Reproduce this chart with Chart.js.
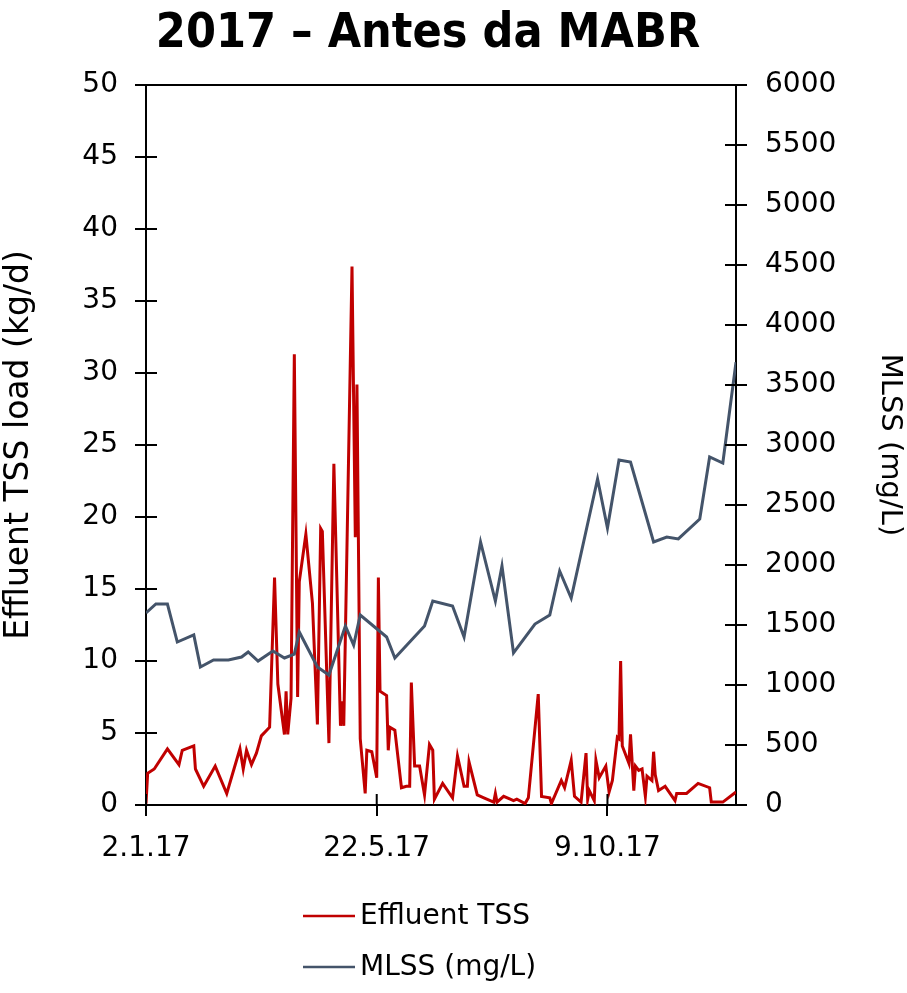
<!DOCTYPE html>
<html>
<head>
<meta charset="utf-8">
<script src="https://cdn.jsdelivr.net/npm/chart.js@4"></script>
<style>
  html, body { margin: 0; padding: 0; background: #fff; }
</style>
</head>
<body>
<canvas id="chart" width="907" height="993"></canvas>
<script>
// days counted from 2.1.17
const xTickDays = [0, 140, 280];
const xTickLabels = ['2.1.17', '22.5.17', '9.10.17'];

const tssDays = [0,1,5,13,20,22,29,30,35,42,49,57,59,61,64,67,70,75,78,80,
  84,85,86,88,90,92,93,97,101,104,106,107,111,114,118,119,120,125,127,128,
  130,133,134,137,140,141,142,146,147,148,151,155,158,160,161,163,166,169,172,174,
  175,180,186,189,193,195,196,201,205,211,212,213,217,221,223,225,230,232,238,240,
  245,246,252,254,258,260,264,267,268,269,272,273,275,279,281,283,286,287,288,289,
  293,294,296,297,299,301,303,304,307,308,309,311,315,321,322,328,335,342,343,350,358];
const tssLoad = [0.1,2.2,2.5,3.9,2.8,3.8,4.1,2.5,1.3,2.7,0.8,3.9,2.5,3.8,2.8,3.6,4.8,5.4,15.8,8.4,
  4.9,7.9,4.9,7.4,31.3,7.5,15.5,18.8,14.0,5.6,19.2,19.0,4.3,23.7,5.5,7.2,5.5,37.4,18.6,29.2,
  4.6,0.8,3.8,3.7,1.9,15.8,7.9,7.6,3.8,5.4,5.2,1.2,1.3,1.3,8.5,2.7,2.7,0.7,4.2,3.8,
  0.4,1.5,0.5,3.4,1.3,1.3,3.0,0.7,0.5,0.2,0.8,0.2,0.6,0.4,0.3,0.4,0.1,0.5,7.7,0.6,
  0.5,0.1,1.7,1.2,3.1,0.6,0.2,3.6,0.4,1.0,0.3,3.1,1.9,2.7,0.9,1.7,4.7,4.6,10.0,4.1,
  2.9,4.9,1.0,2.7,2.4,2.5,0.6,2.0,1.7,3.7,2.1,1.0,1.3,0.3,0.8,0.8,1.5,1.2,0.2,0.2,0.9];

const mlssDays = [0,6,13,19,29,33,41,50,58,62,68,77,84,90,93,104,111,121,126,130,
  146,151,169,174,186,193,203,212,216,223,236,245,251,258,274,280,287,294,308,316,
  323,336,342,350,358];
const mlssValues = [1600,1675,1675,1358,1417,1150,1208,1208,1233,1275,1200,1283,1225,1258,1442,1150,1083,1492,1333,1583,
  1400,1225,1492,1700,1658,1400,2192,1700,1992,1267,1508,1583,1950,1725,2717,2308,2875,2858,2192,2233,
  2217,2383,2900,2850,3690];

const chartTitle = '2017 – Antes da MABR';
const leftTitle = 'Effluent TSS load (kg/d)';
const rightTitle = 'MLSS (mg/L)';
const tssColor = '#C00000';
const mlssColor = '#44546A';

const FONT = "'DejaVu Sans', Verdana, sans-serif";
Chart.defaults.font.family = FONT;
Chart.defaults.color = '#000';

const tickIn = 11;

// ticks crossing into the plot + top frame line
const crossTicks = {
  id: 'crossTicks',
  afterDraw(chart) {
    const { ctx, chartArea: a, scales } = chart;
    ctx.save();
    ctx.strokeStyle = '#000';
    ctx.lineWidth = 2;
    ctx.beginPath();
    ctx.moveTo(a.left, a.top);
    ctx.lineTo(a.right, a.top);
    scales.y.ticks.forEach((t, i) => {
      const p = scales.y.getPixelForTick(i);
      ctx.moveTo(a.left, p); ctx.lineTo(a.left + tickIn, p);
    });
    scales.y1.ticks.forEach((t, i) => {
      const p = scales.y1.getPixelForTick(i);
      ctx.moveTo(a.right, p); ctx.lineTo(a.right - tickIn, p);
    });
    scales.x.ticks.forEach((t, i) => {
      const p = scales.x.getPixelForTick(i);
      ctx.moveTo(p, a.bottom); ctx.lineTo(p, a.bottom - tickIn);
    });
    ctx.stroke();
    ctx.restore();
  }
};

const titlePlugin = {
  id: 'offsetTitle',
  afterDraw(chart) {
    const ctx = chart.ctx;
    ctx.save();
    let size = 48;
    const fam = "'DejaVu Sans Condensed', 'DejaVu Sans', sans-serif";
    ctx.font = 'bold ' + size + 'px ' + fam;
    const w = ctx.measureText(chartTitle).width;
    if (w > 552) {
      size = Math.floor(size * 552 / w);
      ctx.font = 'bold ' + size + 'px ' + fam;
    }
    ctx.fillStyle = '#000';
    ctx.textAlign = 'center';
    ctx.textBaseline = 'alphabetic';
    ctx.fillText(chartTitle, 428, 47);
    ctx.restore();
  }
};

// legend stacked one item per row under the plot
const stackedLegend = {
  id: 'stackedLegend',
  afterDraw(chart) {
    const ctx = chart.ctx;
    ctx.save();
    ctx.font = '28px ' + FONT;
    ctx.textBaseline = 'middle';
    ctx.textAlign = 'left';
    chart.data.datasets.forEach((ds, i) => {
      const y = 916 + i * 51;
      ctx.strokeStyle = ds.borderColor;
      ctx.lineWidth = 2.5;
      ctx.beginPath();
      ctx.moveTo(303, y);
      ctx.lineTo(355, y);
      ctx.stroke();
      ctx.fillStyle = '#000';
      ctx.fillText(ds.label, 360, y + 1);
    });
    ctx.restore();
  }
};

const ctx = document.getElementById('chart').getContext('2d');
new Chart(ctx, {
  type: 'line',
  data: {
    datasets: [
      {
        label: 'Effluent TSS',
        data: tssDays.map((d, i) => ({ x: d, y: tssLoad[i] })),
        borderColor: tssColor,
        backgroundColor: tssColor,
        borderWidth: 3,
        pointRadius: 0,
        tension: 0,
        yAxisID: 'y',
        order: 1
      },
      {
        label: 'MLSS (mg/L)',
        data: mlssDays.map((d, i) => ({ x: d, y: mlssValues[i] })),
        borderColor: mlssColor,
        backgroundColor: mlssColor,
        borderWidth: 3,
        pointRadius: 0,
        tension: 0,
        yAxisID: 'y1',
        order: 0
      }
    ]
  },
  options: {
    responsive: false,
    animation: false,
    devicePixelRatio: 1,
    layout: { padding: { top: 85, bottom: 128, left: 0, right: 0 } },
    plugins: {
      legend: { display: false },
      title: { display: false },
      tooltip: { enabled: false }
    },
    scales: {
      x: {
        type: 'linear',
        min: 0,
        max: 358,
        afterBuildTicks(scale) {
          scale.ticks = xTickDays.map(v => ({ value: v }));
        },
        afterFit(scale) { scale.height = 60; },
        ticks: {
          autoSkip: false,
          maxRotation: 0,
          padding: 16,
          font: { size: 28 },
          callback: v => xTickLabels[xTickDays.indexOf(v)]
        },
        grid: { drawOnChartArea: false, tickLength: 11, color: '#000', lineWidth: 2 },
        border: { color: '#000', width: 2 }
      },
      y: {
        position: 'left',
        min: 0,
        max: 50,
        afterFit(scale) { scale.width = 146; },
        ticks: { stepSize: 5, padding: 17, font: { size: 28 }, callback: v => String(v) },
        grid: { drawOnChartArea: false, tickLength: 11, color: '#000', lineWidth: 2 },
        border: { color: '#000', width: 2 },
        title: { display: true, text: leftTitle, font: { size: 33 }, padding: { top: 0, bottom: 0 } }
      },
      y1: {
        position: 'right',
        min: 0,
        max: 6000,
        afterFit(scale) { scale.width = 171; },
        ticks: { stepSize: 500, padding: 18, font: { size: 28 }, callback: v => String(v) },
        grid: { drawOnChartArea: false, tickLength: 11, color: '#000', lineWidth: 2 },
        border: { color: '#000', width: 2 },
        title: { display: true, text: rightTitle, font: { size: 29 }, padding: { top: 0, bottom: 0 } }
      }
    }
  },
  plugins: [crossTicks, titlePlugin, stackedLegend]
});
</script>
</body>
</html>
